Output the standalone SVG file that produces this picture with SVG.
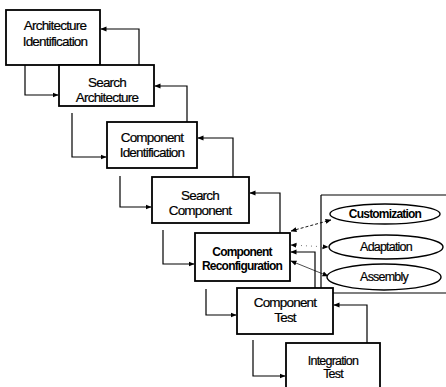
<svg xmlns="http://www.w3.org/2000/svg" width="446" height="387" viewBox="0 0 446 387">
<defs>
<marker id="ah" markerWidth="6" markerHeight="6" refX="5.5" refY="3" orient="auto" markerUnits="userSpaceOnUse">
<path d="M0,0.5 L6,3 L0,5.5 Z" fill="#000"/>
</marker>
<marker id="as" markerWidth="6" markerHeight="6" refX="0.5" refY="3" orient="auto" markerUnits="userSpaceOnUse">
<path d="M6,0.5 L0,3 L6,5.5 Z" fill="#000"/>
</marker>
</defs>
<style>
.box{fill:#fff;stroke:#000;stroke-width:1.8}
.t{font-family:"Liberation Sans",Arial,sans-serif;font-size:13.5px;text-anchor:middle;fill:#000;letter-spacing:-0.8px;stroke:#000;stroke-width:0.2}
.tb{font-family:"Liberation Sans",Arial,sans-serif;font-size:12px;font-weight:bold;text-anchor:middle;fill:#000;letter-spacing:-0.8px}
.ts{font-family:"Liberation Sans",Arial,sans-serif;font-size:12.5px;text-anchor:middle;fill:#000;letter-spacing:-0.8px;stroke:#000;stroke-width:0.2}
.c{fill:none;stroke:#000;stroke-width:1.2;marker-end:url(#ah)}
.cl{fill:none;stroke:#000;stroke-width:1.2}
.ell{fill:#fff;stroke:#000;stroke-width:1.4}
</style>
<rect width="446" height="387" fill="#fff"/>
<g id="container">
<path class="cl" d="M321,195 H446 M321,195 V293 M321,293 H446"/>
</g>
<g id="connectors">
<path class="c" d="M25,65 V95 H58"/>
<path class="c" d="M139,65 V29 H101"/>
<path class="c" d="M72,113 V157 H106"/>
<path class="c" d="M187,122 V86 H155"/>
<path class="c" d="M120,176 V207 H151"/>
<path class="c" d="M233,177 V138 H198"/>
<path class="c" d="M163,230 V264 H194"/>
<path class="c" d="M280,233 V193 H250"/>
<path class="c" d="M206,289 V315 H236"/>
<path class="c" d="M315,288 V252 H291"/>
<path class="c" d="M253,340 V376 H285"/>
<path class="c" d="M367,343 V305 H334"/>
<path d="M291,231 L331,220" fill="none" stroke="#000" stroke-width="0.9" stroke-dasharray="3,2" marker-start="url(#as)" marker-end="url(#ah)"/>
<path d="M291,245 L328,247" fill="none" stroke="#555" stroke-width="0.8" stroke-dasharray="1,4" marker-start="url(#as)" marker-end="url(#ah)"/>
<path d="M291,261 L328,276" fill="none" stroke="#000" stroke-width="0.7" marker-start="url(#as)" marker-end="url(#ah)"/>
</g>
<g id="n1">
<rect class="box" x="6" y="10" width="94" height="55"/>
<text class="t" x="55" y="30">Architecture</text>
<text class="t" x="55" y="46">Identification</text>
</g>
<g id="n2">
<rect class="box" x="59" y="65" width="95" height="41"/>
<text class="t" x="107" y="87">Search</text>
<text class="t" x="107" y="102">Architecture</text>
</g>
<g id="n3">
<rect class="box" x="107" y="122" width="90" height="46"/>
<text class="t" x="152" y="142">Component</text>
<text class="t" x="152" y="157">Identification</text>
</g>
<g id="n4">
<rect class="box" x="152" y="177" width="97" height="46"/>
<text class="t" x="200" y="200">Search</text>
<text class="t" x="200" y="215">Component</text>
</g>
<g id="n5">
<rect class="box" x="195" y="233" width="95" height="48"/>
<text class="tb" x="242" y="256">Component</text>
<text class="tb" x="242" y="270">Reconfiguration</text>
</g>
<g id="n6">
<rect class="box" x="237" y="288" width="96" height="46"/>
<text class="t" x="285" y="307">Component</text>
<text class="t" x="285" y="322">Test</text>
</g>
<g id="n7">
<rect class="box" x="286" y="343" width="94" height="50"/>
<text class="ts" x="333" y="365">Integration</text>
<text class="ts" x="333" y="378">Test</text>
</g>
<g id="e1">
<ellipse class="ell" cx="385" cy="214" rx="55" ry="10" stroke-width="2.2"/>
<text class="tb" x="385" y="218">Customization</text>
</g>
<g id="e2">
<ellipse class="ell" cx="386" cy="247" rx="57" ry="12"/>
<text class="ts" x="386" y="251">Adaptation</text>
</g>
<g id="e3">
<ellipse class="ell" cx="384" cy="277" rx="57" ry="13"/>
<text class="ts" x="384" y="281">Assembly</text>
</g>
</svg>
